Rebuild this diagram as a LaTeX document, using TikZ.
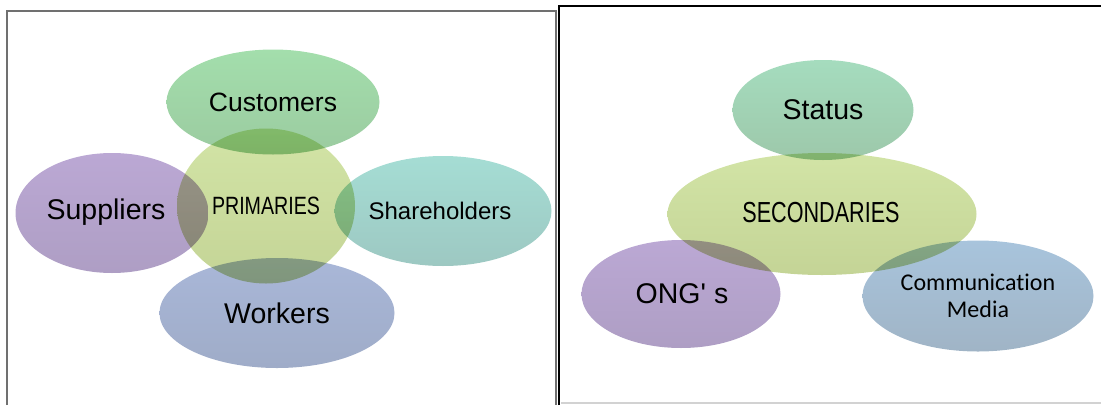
\documentclass[tikz,border=0pt]{standalone}
\usepackage{fontspec}
\usepackage{graphicx}
\setmainfont{Liberation Sans}
\newfontfamily\arialf{Liberation Sans}
\newfontfamily\calib{Carlito}[Ligatures=NoCommon]
\usetikzlibrary{shapes.geometric}
\definecolor{cusT}{RGB}{163,222,172}\definecolor{cusB}{RGB}{155,203,160}
\definecolor{priT}{RGB}{210,228,166}\definecolor{priB}{RGB}{196,212,150}
\definecolor{supT}{RGB}{187,168,212}\definecolor{supB}{RGB}{174,158,196}
\definecolor{shaT}{RGB}{165,221,212}\definecolor{shaB}{RGB}{157,200,194}
\definecolor{worT}{RGB}{169,183,216}\definecolor{worB}{RGB}{159,172,200}
\definecolor{staT}{RGB}{165,220,190}\definecolor{staB}{RGB}{157,200,170}
\definecolor{comT}{RGB}{168,196,220}\definecolor{comB}{RGB}{160,180,198}
\definecolor{boxgray}{RGB}{112,112,112}
\tikzset{
  bubble/.style={ellipse, inner sep=0pt, blend mode=multiply, text=black},
  label/.style={text=black, inner sep=0pt},
  graybox/.style={draw=boxgray, line width=2pt},
  blackbox/.style={draw=black, line width=2.6pt},
}
\begin{document}
\begin{tikzpicture}[x=1pt,y=-1pt]
\useasboundingbox (0,0) rectangle (1101,405);
% frames
\draw[graybox] (7,405) -- (7,11) -- (556,11) -- (556,405);
\draw[blackbox] (559,405) -- (559,6) -- (1101,6);
\draw[gray!35, line width=1.5pt] (561,403) -- (1101,403);
% left group
\node[bubble, top color=cusT, bottom color=cusB, minimum width=213pt, minimum height=105pt] (cus) at (273,102) {};
\node[bubble, top color=priT, bottom color=priB, minimum width=178pt, minimum height=155pt] (pri) at (266,206) {};
\node[bubble, top color=supT, bottom color=supB, minimum width=193pt, minimum height=120pt] (sup) at (112,213) {};
\node[bubble, top color=shaT, bottom color=shaB, minimum width=217pt, minimum height=110pt] (sha) at (443,211) {};
\node[bubble, top color=worT, bottom color=worB, minimum width=235pt, minimum height=110pt] (wor) at (277,313) {};
\node[label, font=\fontsize{26.5}{30}\selectfont] (cust) at (273,102) {Customers};
\node[label, font=\fontsize{25}{28}\selectfont] (prit) at (266,206) {\scalebox{0.785}[1]{PRIMARIES}};
\node[label, font=\fontsize{28.5}{32}\selectfont] (supt) at (106,212) {Suppliers};
\node[label, font=\fontsize{24}{28}\selectfont] (shat) at (440,211) {Shareholders};
\node[label, font=\fontsize{28.5}{32}\selectfont] (wort) at (277,313) {Workers};
% right group
\node[bubble, top color=staT, bottom color=staB, minimum width=181pt, minimum height=100pt] (sta) at (823,110) {};
\node[bubble, top color=priT, bottom color=priB, minimum width=309pt, minimum height=122pt] (sec) at (822,214) {};
\node[bubble, top color=supT, bottom color=supB, minimum width=199pt, minimum height=108pt] (ong) at (681,294) {};
\node[bubble, top color=comT, bottom color=comB, minimum width=231pt, minimum height=111pt] (com) at (978,296) {};
\node[label, font=\fontsize{28.5}{32}\selectfont] (stat) at (823,110) {Status};
\node[label, font=\fontsize{29}{32}\selectfont] (sect) at (821,213) {\scalebox{0.745}[1]{SECONDARIES}};
\node[label, font=\arialf\fontsize{28.5}{32}\selectfont] (ongt) at (682,294) {ONG' s};
\node[label, font=\calib\fontsize{24}{27}\selectfont, align=center] (comt) at (978,296) {Communication\\Media};
\end{tikzpicture}
\end{document}
